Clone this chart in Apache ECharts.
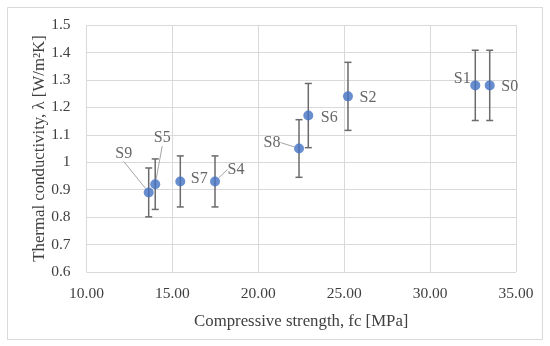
<!DOCTYPE html>
<html>
<head>
<meta charset="utf-8">
<script src="https://cdn.jsdelivr.net/npm/echarts@6/dist/echarts.min.js"></script>
<style>html,body{margin:0;padding:0;background:#fff}#c{width:550px;height:346px}</style>
</head>
<body>
<div id="c"></div>
<script>
// Data
const names = ['S0', 'S1', 'S2', 'S4', 'S5', 'S6', 'S7', 'S8', 'S9'];
const fc = [33.47, 32.63, 25.22, 17.48, 14.0, 22.91, 15.46, 22.37, 13.62];
const lambda = [1.28, 1.28, 1.24, 0.93, 0.92, 1.17, 0.93, 1.05, 0.89];
const errBar = [0.128, 0.128, 0.124, 0.093, 0.092, 0.117, 0.093, 0.105, 0.089];
const yTicks = { min: 0.6, max: 1.5, interval: 0.1 };
const xTicks = { min: 10, max: 35, interval: 5 };

// Label placement (style only)
const labelOffsets = {
  S0: [20, 1], S1: [-13, -7], S2: [20, 1], S4: [21, -12], S5: [7, -46],
  S6: [21, 2], S7: [19, -3], S8: [-27, -6], S9: [-25, -39]
};
const leaderNames = ['S9', 'S5', 'S4', 'S8'];

const FONT = 'Liberation Serif';
const TXT = '#404040';

const pts = names.map((n, i) => ({
  name: n, value: [fc[i], lambda[i]],
  labelLine: { show: leaderNames.indexOf(n) >= 0 }
}));
const errs = names.map((n, i) => [fc[i], lambda[i] - errBar[i], lambda[i] + errBar[i]]);

const chart = echarts.init(document.getElementById('c'));
chart.setOption({
  backgroundColor: '#fff',
  animation: false,
  graphic: [{
    type: 'rect', shape: { x: 7.5, y: 7.5, width: 535, height: 332 },
    style: { fill: 'none', stroke: '#d9d9d9', lineWidth: 1 }, silent: true
  }],
  grid: { left: 86.5, right: 34, top: 25, bottom: 74 },
  xAxis: {
    type: 'value', min: xTicks.min, max: xTicks.max, interval: xTicks.interval,
    name: 'Compressive strength, fc [MPa]', nameLocation: 'middle', nameGap: 41,
    nameMoveOverlap: false,
    nameTextStyle: { fontFamily: FONT, fontSize: 16.8, color: TXT },
    axisLine: { show: false }, axisTick: { show: false },
    axisLabel: { fontFamily: FONT, fontSize: 15.5, color: TXT, margin: 14, formatter: v => v.toFixed(2) },
    splitLine: { lineStyle: { color: '#d9d9d9' } }
  },
  yAxis: {
    type: 'value', min: yTicks.min, max: yTicks.max, interval: yTicks.interval,
    name: 'Thermal conductivity, \u03bb [W/m\u00b2K]', nameLocation: 'middle', nameGap: 38,
    nameMoveOverlap: false,
    nameTextStyle: { fontFamily: FONT, fontSize: 16.8, color: TXT },
    axisLine: { show: false }, axisTick: { show: false },
    axisLabel: { fontFamily: FONT, fontSize: 15.5, color: TXT, margin: 16 },
    splitLine: { lineStyle: { color: '#d9d9d9' } }
  },
  series: [{
    type: 'custom',
    data: errs,
    z: 2,
    renderItem: function (params, api) {
      const x = api.value(0);
      const lo = api.coord([x, api.value(1)]);
      const hi = api.coord([x, api.value(2)]);
      const cap = 3.5;
      const st = { stroke: '#6b6b6b', lineWidth: 1.5 };
      return {
        type: 'group', children: [
          { type: 'line', shape: { x1: lo[0], y1: lo[1], x2: hi[0], y2: hi[1] }, style: st },
          { type: 'line', shape: { x1: lo[0] - cap, y1: lo[1], x2: lo[0] + cap, y2: lo[1] }, style: st },
          { type: 'line', shape: { x1: hi[0] - cap, y1: hi[1], x2: hi[0] + cap, y2: hi[1] }, style: st }
        ]
      };
    }
  }, {
    type: 'scatter',
    data: pts,
    z: 3,
    symbol: 'circle', symbolSize: 10,
    itemStyle: { color: '#4472c4' },
    label: {
      show: true, position: 'inside', formatter: p => p.name,
      fontFamily: FONT, fontSize: 16, color: TXT
    },
    labelLine: { show: false, lineStyle: { color: '#a6a6a6', width: 1 } },
    labelLayout: function (p) {
      const n = names[p.dataIndex];
      const o = labelOffsets[n];
      return { dx: o[0], dy: o[1], hideOverlap: false };
    }
  }]
});
</script>
</body>
</html>
